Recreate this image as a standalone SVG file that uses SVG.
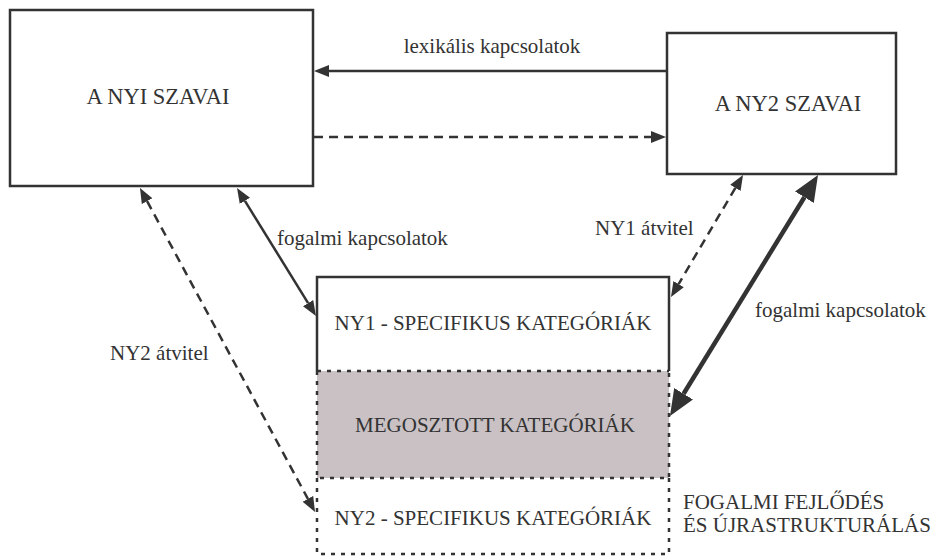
<svg xmlns="http://www.w3.org/2000/svg" width="938" height="557" viewBox="0 0 938 557" font-family="Liberation Serif, serif">
<style>
.box{fill:#fff;stroke:#333;stroke-width:2.5}
.t{fill:#333;font-size:21px}
.big{font-size:22.5px}
.mid{text-anchor:middle}
.ln{stroke:#333;stroke-width:2.5;fill:none}
.dash{stroke-dasharray:9 6}
.dot{stroke:#333;stroke-width:2.5;fill:none;stroke-dasharray:4 6}
.thick{stroke:#333;stroke-width:4.5;fill:none}
</style>
<defs>
<marker id="ah" markerUnits="userSpaceOnUse" viewBox="0 -7 16 14" refX="0" refY="0" markerWidth="16" markerHeight="14" orient="auto-start-reverse">
<path d="M0,-6 L15,0 L0,6 z" fill="#333"/>
</marker>
<marker id="ahb" markerUnits="userSpaceOnUse" viewBox="0 -12 27 24" refX="0" refY="0" markerWidth="27" markerHeight="24" orient="auto-start-reverse">
<path d="M0,-11 L26,0 L0,11 z" fill="#333"/>
</marker>
</defs>

<g id="ny1-szavai">
<rect class="box" x="10" y="10" width="303" height="176"/>
<text class="t big mid" font-family="Liberation Serif, serif" x="158" y="104">A NYI SZAVAI</text>
</g>

<g id="ny2-szavai">
<rect class="box" x="667" y="33" width="229" height="141"/>
<text class="t big mid" font-family="Liberation Serif, serif" x="788" y="111">A NY2 SZAVAI</text>
</g>

<g id="ny2-specifikus">
<path class="dot" d="M317,478 V554 H669 V478"/>
<text class="t mid" font-family="Liberation Serif, serif" x="493" y="525">NY2 - SPECIFIKUS KATEGÓRIÁK</text>
</g>

<g id="megosztott">
<rect x="317" y="371" width="352" height="107" fill="#c9c1c4"/>
<path class="dot" d="M317,371 V478 H669 V371"/>
<text class="t mid" font-family="Liberation Serif, serif" x="495" y="432">MEGOSZTOTT KATEGÓRIÁK</text>
</g>

<g id="ny1-specifikus">
<path d="M317,371 V277 H669 V371" fill="none" stroke="#333" stroke-width="2.5"/>
<path class="dot" d="M317,371 H669"/>
<text class="t mid" font-family="Liberation Serif, serif" x="493" y="330">NY1 - SPECIFIKUS KATEGÓRIÁK</text>
</g>

<g id="fejlodes-label">
<text class="t" font-family="Liberation Serif, serif" x="683" y="509">FOGALMI FEJLŐDÉS</text>
<text class="t" font-family="Liberation Serif, serif" x="683" y="532">ÉS ÚJRASTRUKTURÁLÁS</text>
</g>

<g id="connectors">
<line class="ln" x1="667" y1="71" x2="329" y2="71" marker-end="url(#ah)"/>
<line class="ln dash" x1="314" y1="137" x2="651" y2="137" marker-end="url(#ah)"/>
<line class="ln" x1="244.9" y1="200.8" x2="308.1" y2="303.2" marker-start="url(#ah)" marker-end="url(#ah)"/>
<line class="ln dash" x1="147.1" y1="201.2" x2="307.9" y2="498.8" marker-start="url(#ah)" marker-end="url(#ah)"/>
<line class="ln dash" x1="735.4" y1="187.9" x2="678.6" y2="284.1" marker-start="url(#ah)" marker-end="url(#ah)"/>
<line class="thick" x1="804.4" y1="197.2" x2="683.6" y2="393.8" marker-start="url(#ahb)" marker-end="url(#ahb)"/>
<text class="t mid" font-family="Liberation Serif, serif" x="492" y="53">lexikális kapcsolatok</text>
<text class="t" font-family="Liberation Serif, serif" x="277" y="245">fogalmi kapcsolatok</text>
<text class="t" font-family="Liberation Serif, serif" x="595" y="235">NY1 átvitel</text>
<text class="t" font-family="Liberation Serif, serif" x="755" y="317">fogalmi kapcsolatok</text>
<text class="t" font-family="Liberation Serif, serif" x="110" y="360">NY2 átvitel</text>
</g>
</svg>
